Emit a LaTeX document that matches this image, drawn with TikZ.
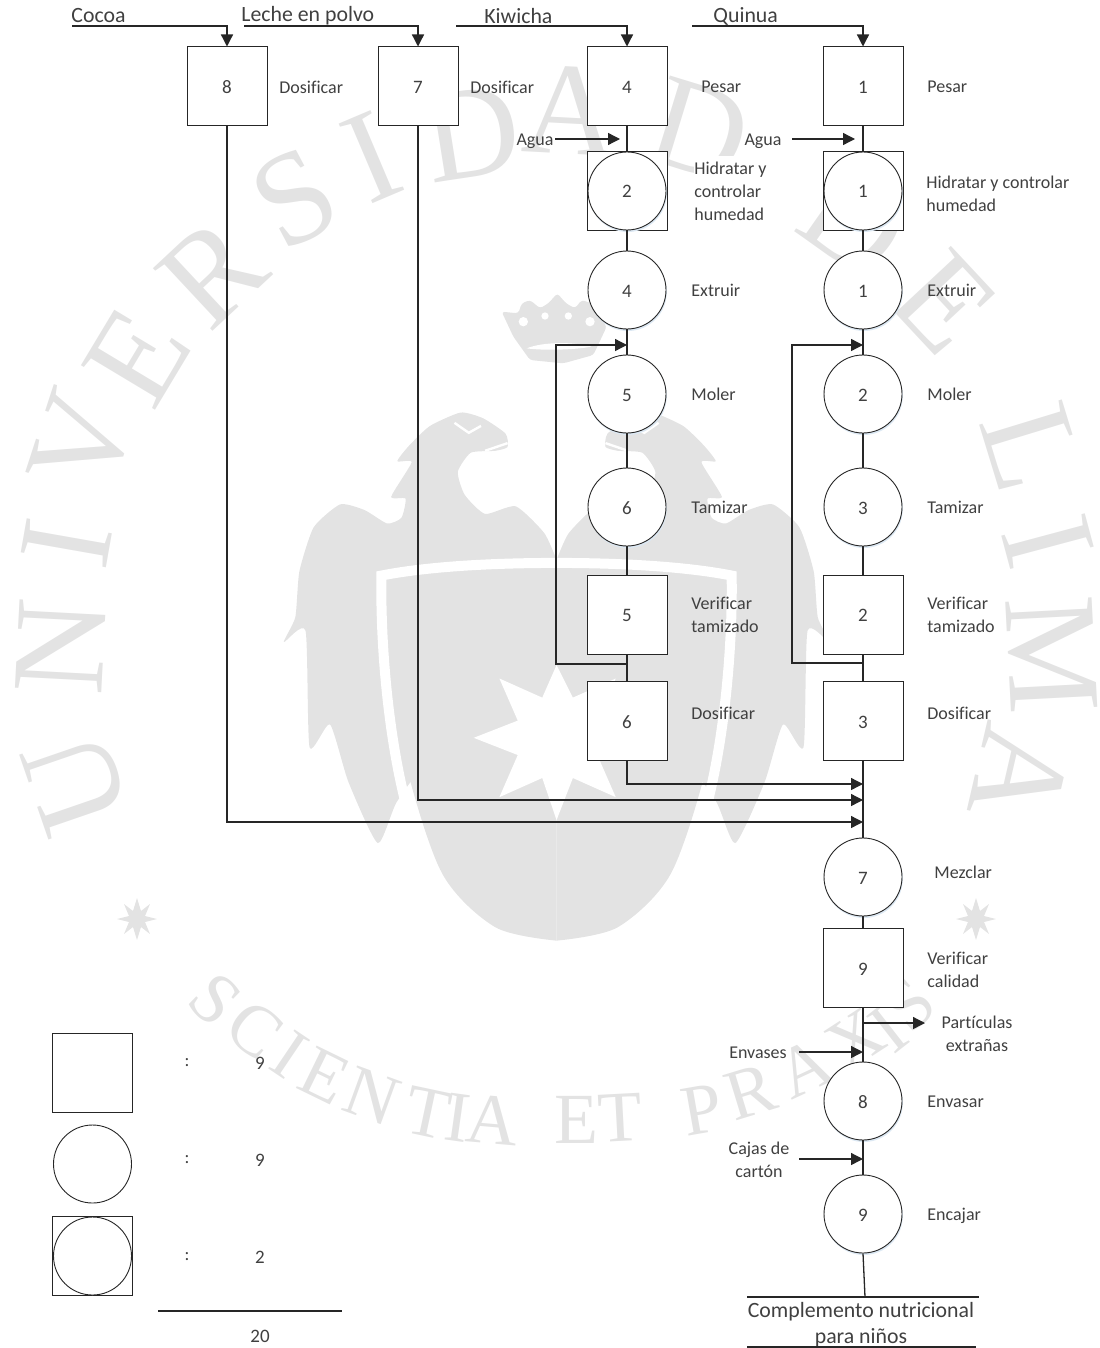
\documentclass[tikz,border=0pt]{standalone}
\usepackage{fontspec}
\setmainfont{Carlito}[Ligatures=NoCommon]
\newfontfamily\wmfont{Liberation Serif}
\usetikzlibrary{arrows.meta}
\definecolor{wmgray}{HTML}{E3E3E3}
\definecolor{ink}{HTML}{262626}
\definecolor{txt}{HTML}{404040}
\definecolor{glow}{HTML}{DCE8F3}
\tikzset{
  sq/.style={draw=ink,line width=0.5pt,fill=white,minimum width=40pt,minimum height=39.5pt,inner sep=0pt,font=\fontsize{9.5}{10}\selectfont,text=txt,text height=7pt,text depth=0pt},
  rnd/.style={draw=ink,line width=0.45pt,fill=white,circle,minimum size=39pt,inner sep=0pt,font=\fontsize{9.5}{10}\selectfont,text=txt,text height=7pt,text depth=0pt},
  rndg/.style={rnd,preaction={fill=glow,transform canvas={xshift=0.4pt,yshift=-1pt}}},
  lab/.style={inner sep=0pt,font=\fontsize{9}{11.5}\selectfont,text=txt,align=left,anchor=west},
  clab/.style={lab,align=center,anchor=center},
  big/.style={inner sep=0pt,font=\fontsize{10.9}{13}\selectfont,text=txt,align=center},
  con/.style={draw=ink,line width=0.65pt},
  arr/.style={con,-{Triangle[length=6pt,width=6pt]}},
  wm/.style={inner sep=0pt,text=wmgray,font=\wmfont\fontsize{66}{66}\selectfont},
  wms/.style={wm,font=\wmfont\fontsize{36}{36}\selectfont},
  wmfill/.style={fill=wmgray,draw=none}
}
\begin{document}
\begin{tikzpicture}[x=0.5pt,y=-0.5pt]
\useasboundingbox (0,0) rectangle (1099,1348);
% --- watermark: letters
\foreach \c/\x/\y/\r [count=\i] in {
 U/76/783/109, N/61/647/87, I/67/543/80, V/82/442/72, E/137/357/59, R/212/273/43, S/295/198/28, I/372/157/23, D/472/133/9, A/570/110/-3, D/700/130/-17,
 D/855/222/-35, E/945/303/-47, L/1032/447/-73, I/1048/542/-75, M/1052/655/-87, A/1020/775/-103}
 \node[wm,rotate=\r] (wl\i) at (\x,\y) {\c};
\foreach \c/\x/\y/\r [count=\i] in {
 S/215/1000/-44, C/255/1030/-38, I/290/1055/-34, E/325/1076/-26, N/372/1096/-20, T/428/1113/-12, I/458/1118/-8, A/492/1120/-5,
 E/576/1120/0, T/620/1118/3, P/702/1110/10, R/751/1092/17, A/805/1068/25, X/855/1040/33, I/888/1030/38, S/910/1005/42}
 \node[wms,rotate=\r] (ws\i) at (\x,\y) {\c};
% --- watermark: small stars
\foreach \n/\x/\y in {a/137/919,b/976/919}{
 \fill[wmgray] (\x,\y-21)--(\x+4,\y-8)--(\x+13,\y-15)--(\x+8,\y-3)--(\x+20,\y)--(\x+8,\y+3)--(\x+13,\y+15)--(\x+4,\y+8)--(\x,\y+21)--(\x-4,\y+8)--(\x-13,\y+15)--(\x-8,\y+3)--(\x-20,\y)--(\x-8,\y-3)--(\x-13,\y-15)--(\x-4,\y-8)--cycle;
}
% --- watermark: crown
\begin{scope}[shift={(480,280)},x=0.16667pt,y=-0.16667pt]
 \fill[wmgray,rounded corners=1.5pt] (65,95)--(115,100)--(125,70)--(150,60)--(180,85)--(205,70)--(232,40)--(258,70)--(285,85)--(305,60)--(335,70)--(380,140)--(340,225)--(250,250)--(150,240)--(100,170)--cycle;
 \fill[white] (130,125) circle (14) (195,108) circle (11) (265,108) circle (11) (330,125) circle (14);
 \fill[white] (140,205) .. controls (190,185) and (280,185) .. (335,200) .. controls (280,210) and (190,212) .. (140,205) -- cycle;
\end{scope}
% --- watermark: eagle (coordinates of a zoomed frame)
\begin{scope}[shift={(230,380)},x=0.20408pt,y=-0.19135pt]
 \def\half#1{%
 \fill[wmfill,#1] plot[smooth,tension=0.35] coordinates {(800,470)(770,400)(700,330)(625,350)(575,300)(558,240)(590,190)(650,185)(680,175)(675,140)(620,100)(565,85)(490,120)(440,170)(410,212)(445,215)(395,305)(430,310)(420,360)(385,375)(330,340)(270,325)(205,385)(170,500)(160,620)(132,685)(185,655)(195,960)(245,900)(290,1050)(362,1210)(410,1100)(500,1000)(800,1000)} -- cycle;
 \fill[wmfill,#1] plot[smooth,tension=0.5] coordinates {(800,480)(380,525)(385,700)(430,1000)(520,1290)(650,1430)(800,1465)} -- cycle;
 \draw[white,line width=5pt,#1] (800,478) .. controls (620,478) and (470,490) .. (371,511) .. controls (368,700) and (390,980) .. (450,1180);
 \draw[white,line width=1.2pt,#1] (550,112)--(585,138)--(615,120) (625,185)--(680,165);
 }
 \half{}
 \begin{scope}[xshift={1600*0.20408pt},xscale=-1]\half{}\end{scope}
 \fill[white] (800,745)--(840,830)--(945,780)--(900,890)--(1005,935)--(900,980)--(945,1090)--(840,1040)--(800,1150)--(765,1040)--(660,1090)--(705,980)--(597,935)--(705,890)--(660,780)--(765,830)--cycle;
\end{scope}
% --- white patch behind a label
\node[lab,fill=white,minimum width=37pt,minimum height=35pt] (hk) at (694,191) {};
% --- process nodes
\node[sq] (c8) at (227,86.5) {8};
\node[sq] (l7) at (418,86.5) {7};
\node[sq] (k4) at (627,86.5) {4};
\node[sq] (q1) at (863,86.5) {1};
\node[sq] (kc) at (627,191) {};
\node[rndg] (kh) at (627,191) {2};
\node[sq] (qc) at (863,191) {};
\node[rndg] (qh) at (863,191) {1};
\node[rndg] (ke) at (627,290) {4};
\node[rndg] (qe) at (863,290) {1};
\node[rndg] (km) at (627,394) {5};
\node[rndg] (qm) at (863,394) {2};
\node[rndg] (kt) at (627,507) {6};
\node[rndg] (qt) at (863,507) {3};
\node[sq] (kv) at (627,614.5) {5};
\node[sq] (qv) at (863,614.5) {2};
\node[sq] (kd) at (627,721) {6};
\node[sq] (qd) at (863,721) {3};
\node[rndg] (mz) at (863,877) {7};
\node[sq] (vc) at (863,968) {9};
\node[rndg] (ev) at (863,1101) {8};
\node[rndg] (ec) at (863,1214) {9};
% --- legend
\node[sq] (ls) at (92.5,1073) {};
\node[rnd] (lc) at (92.5,1164) {};
\node[sq] (lb) at (92.5,1256) {};
\node[rnd] (lr) at (92.5,1256) {};
% --- labels
\foreach \n/\x/\y/\t in {
 a1/279/87/Dosificar, a2/470/87/Dosificar, a3/701/87/Pesar, a4/927/87/Pesar,
 a5/691/290/Extruir, a6/927/290/Extruir, a7/691/394/Moler, a8/927/394/Moler,
 a9/691/507/Tamizar, a10/927/507/Tamizar, a11/691/713/Dosificar, a12/927/713/Dosificar,
 a13/934/872/Mezclar, a14/927/1102/Envasar, a15/927/1216/Encajar}
 \node[lab] (\n) at (\x,\y) {\t};
\node[lab] (hk1) at (694,191) {Hidratar y\\controlar\\humedad};
\node[lab] (hq1) at (926,194) {Hidratar y controlar\\humedad};
\node[lab] (vk1) at (691,615) {Verificar\\tamizado};
\node[lab] (vq1) at (927,615) {Verificar\\tamizado};
\node[lab] (vc1) at (927,970) {Verificar\\calidad};
\node[clab] (ag1) at (535,141) {Agua};
\node[clab] (ag2) at (763,141) {Agua};
\node[clab] (pe) at (977,1034) {Partículas\\extrañas};
\node[clab] (en) at (758,1053) {Envases};
\node[clab] (cj) at (759,1160) {Cajas de\\cartón};
\node[big,anchor=west] (t1) at (71,16) {Cocoa};
\node[big,anchor=west] (t2) at (241,16) {Leche en polvo};
\node[big,anchor=west] (t3) at (484,16) {Kiwicha};
\node[big,anchor=west] (t4) at (713,16) {Quinua};
\node[big] (out) at (861,1325) {Complemento nutricional\\para niños};
\foreach \n/\y/\v in {p/1063/9,q/1160/9,r/1257/2}{
 \node[clab] (d\n) at (187,\y) {:};
 \node[clab,font=\fontsize{9.5}{11}\selectfont] (v\n) at (260,\y) {\v};
}
\node[clab,font=\fontsize{9.5}{11}\selectfont] (tot) at (260,1336) {20};
% --- coordinates of free ends
\coordinate (s1) at (72,26); \coordinate (s2) at (244,26); \coordinate (s3) at (456,26); \coordinate (s4) at (692,26);
\coordinate (wk) at (555,139); \coordinate (wq) at (792,139);
\coordinate (wkj) at (620,139); \coordinate (wqj) at (855,139);
\coordinate (j1) at (863,784); \coordinate (j2) at (863,800); \coordinate (j3) at (863,822);
\coordinate (fk) at (627,664); \coordinate (fq) at (863,663);
\coordinate (fka) at (627,345); \coordinate (fqa) at (863,345);
\coordinate (ps) at (863,1023); \coordinate (pe2) at (925,1023);
\coordinate (ens) at (799,1052); \coordinate (ene) at (863,1052);
\coordinate (cjs) at (799,1159); \coordinate (cje) at (863,1159);
\coordinate (b1) at (747,1297); \coordinate (b2) at (979,1297); \coordinate (bm) at (865,1297);
\coordinate (b3) at (747,1347); \coordinate (b4) at (976,1347);
\coordinate (t1a) at (158,1311); \coordinate (t1b) at (342,1311);
% --- connectors
\draw[arr] (s1) -| (c8.north);
\draw[arr] (s2) -| (l7.north);
\draw[arr] (s3) -| (k4.north);
\draw[arr] (s4) -| (q1.north);
\draw[con] (k4) -- (kc) (kh) -- (ke) (ke) -- (km) (km) -- (kt) (kt) -- (kv) (kv) -- (kd);
\draw[con] (q1) -- (qc) (qh) -- (qe) (qe) -- (qm) (qm) -- (qt) (qt) -- (qv) (qv) -- (qd);
\draw[con] (qd.south) -- (mz.north) (mz) -- (vc) (vc) -- (ev) (ev) -- (ec);
\draw[arr] (wk) -- (wkj);
\draw[arr] (wq) -- (wqj);
\draw[arr] (fk) -- (556,664) |- (fka);
\draw[arr] (fq) -- (792,663) |- (fqa);
\draw[arr] (kd.south) |- (j1);
\draw[arr] (l7.south) |- (j2);
\draw[arr] (c8.south) |- (j3);
\draw[arr] (ps) -- (pe2);
\draw[arr] (ens) -- (ene);
\draw[arr] (cjs) -- (cje);
\draw[con] (ec.south) -- (bm);
\draw[con] (b1) -- (b2);
\draw[con] (b3) -- (b4);
\draw[con] (t1a) -- (t1b);
\end{tikzpicture}
\end{document}
